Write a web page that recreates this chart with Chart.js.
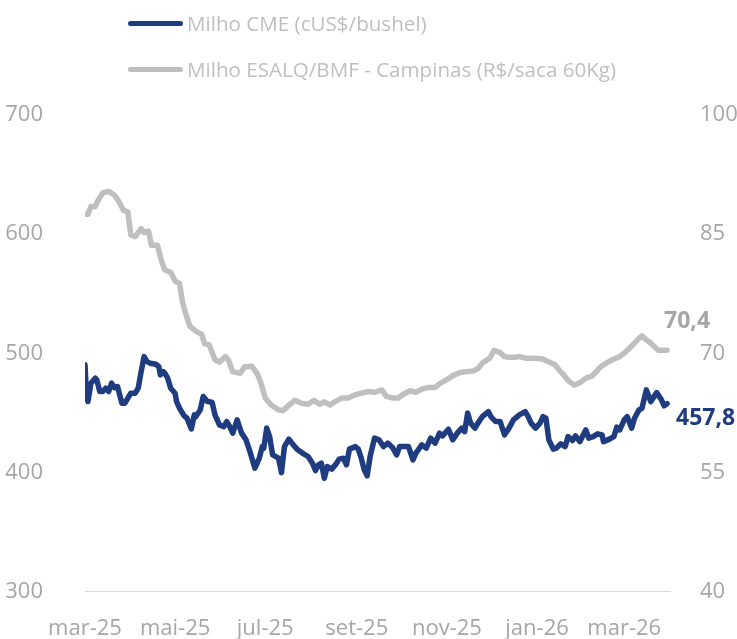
<!DOCTYPE html>
<html lang="pt-BR">

<head>
    <meta charset="UTF-8">
    <title>Milho CME x ESALQ</title>
    <script src="https://cdn.jsdelivr.net/npm/chart.js"></script>
    <style>
        body {
            margin: 0;
            background: #fff;
            font-family: "Open Sans", sans-serif;
        }

        .grafico {
            position: relative;
            width: 737px;
            height: 639px;
        }

        .legenda {
            position: absolute;
            left: 128px;
            top: 3px;
            color: #bfbfbf;
            font-size: 20.6px;
        }

        .legenda div {
            display: flex;
            align-items: center;
            height: 40px;
        }

        .legenda div + div {
            margin-top: 6px;
        }

        .legenda span.linha {
            display: inline-block;
            width: 55px;
            height: 5px;
            border-radius: 3px;
            margin-right: 4px;
        }
    </style>
</head>

<body>

    <div class="grafico">
        <div class="legenda">
            <div><span class="linha" style="background:#1f3c80"></span>Milho CME (cUS$/bushel)</div>
            <div><span class="linha" style="background:#bfbfbf"></span>Milho ESALQ/BMF - Campinas (R$/saca 60Kg)</div>
        </div>
        <canvas id="grafico-milho" width="737" height="639"></canvas>
    </div>

</body>

</html>

<script>

    // dias contados a partir de 01/03/2025
    const rotulosX = ['mar-25', 'mai-25', 'jul-25', 'set-25', 'nov-25', 'jan-26', 'mar-26'];
    const diasRotulos = [0, 61, 122, 184, 245, 306, 365];

    // Milho CME (cUS$/bushel) - eixo esquerdo
    const diasCme = [0, 1, 2, 4, 7, 8, 10, 12, 14, 16, 18, 20, 22, 25, 27, 29, 31, 34, 36, 38,
        40, 42, 44, 48, 50, 51, 53, 54, 56, 58, 61, 62, 64, 67, 69, 72, 74, 75, 78, 80,
        83, 86, 88, 91, 94, 96, 98, 100, 103, 106, 109, 112, 115, 118, 120, 121, 123, 125, 127, 131,
        133, 135, 138, 141, 144, 148, 151, 154, 156, 158, 160, 162, 164, 167, 170, 172, 175, 177, 179, 183,
        185, 187, 189, 191, 193, 196, 199, 202, 205, 208, 211, 213, 216, 219, 222, 224, 228, 231, 234, 237,
        240, 242, 246, 249, 252, 255, 257, 259, 261, 264, 266, 269, 273, 275, 278, 281, 284, 287, 290, 294,
        298, 300, 302, 305, 308, 310, 312, 314, 317, 319, 322, 325, 327, 330, 332, 335, 339, 341, 344, 347,
        350, 351, 355, 358, 360, 362, 365, 367, 370, 372, 375, 377, 380, 383, 387, 390, 392, 394];
    const cme = [490.4, 465.2, 459.6, 475.0, 479.2, 477.8, 468.0, 468.0, 470.8, 468.0, 475.0, 471.3, 472.2, 458.2, 458.2, 462.4, 466.6, 466.6, 470.8, 484.7,
        497.3, 493.1, 491.8, 490.9, 488.9, 482.0, 484.7, 483.4, 479.2, 470.8, 466.6, 459.6, 454.0, 447.8, 445.7, 436.7, 448.4, 447.0, 452.6, 463.8,
        459.6, 459.1, 448.4, 440.0, 438.6, 442.8, 438.6, 433.1, 444.2, 433.1, 427.5, 416.3, 403.7, 412.1, 421.8, 420.5, 437.3, 430.2, 414.9, 412.1,
        400.0, 421.8, 428.1, 423.3, 419.1, 415.7, 413.5, 407.9, 401.7, 406.5, 407.9, 395.3, 405.1, 402.9, 407.3, 411.3, 412.1, 406.5, 419.7, 421.8,
        419.7, 412.1, 402.3, 397.3, 413.5, 428.9, 427.5, 421.8, 424.7, 421.3, 414.9, 421.8, 421.8, 421.8, 410.7, 416.3, 423.3, 420.5, 428.9, 424.7,
        433.1, 430.8, 436.4, 427.5, 433.1, 437.3, 434.4, 449.9, 441.5, 437.3, 441.5, 447.0, 451.2, 446.5, 442.8, 442.8, 431.7, 437.3, 444.2, 448.4,
        451.2, 447.0, 441.5, 437.3, 441.5, 447.0, 445.7, 427.5, 419.7, 420.5, 424.1, 421.8, 430.2, 426.9, 430.8, 426.0, 435.8, 428.9, 430.2, 432.5,
        431.7, 426.0, 428.1, 430.2, 438.1, 435.8, 444.2, 447.0, 437.3, 445.7, 452.6, 454.0, 469.4, 459.6, 467.1, 461.6, 456.0, 457.8];

    // Milho ESALQ/BMF - Campinas (R$/saca 60Kg) - eixo direito
    const diasEsalq = [0, 2, 4, 7, 9, 12, 16, 20, 23, 26, 29, 31, 34, 38, 40, 43, 45, 49, 52, 54,
        58, 61, 64, 66, 68, 71, 75, 79, 81, 84, 88, 91, 95, 97, 100, 105, 108, 113, 117, 119,
        122, 126, 131, 134, 137, 142, 147, 151, 155, 159, 162, 166, 169, 174, 178, 183, 187, 192, 196, 201,
        204, 208, 212, 215, 220, 224, 228, 232, 237, 240, 245, 249, 254, 258, 263, 266, 269, 274, 277, 281,
        284, 287, 291, 294, 298, 304, 310, 313, 318, 321, 324, 327, 331, 335, 339, 343, 346, 349, 353, 357,
        362, 366, 371, 375, 377, 380, 383, 385, 388, 394];
    const esalq = [87.5, 87.5, 88.5, 88.5, 89.3, 90.2, 90.4, 89.9, 89.1, 88.0, 87.8, 84.9, 84.7, 85.7, 85.2, 85.4, 83.6, 83.6, 81.5, 80.5,
        80.2, 79.1, 78.8, 76.5, 75.1, 73.4, 72.8, 72.4, 71.2, 71.1, 69.2, 68.9, 69.6, 69.2, 67.7, 67.5, 68.3, 68.4, 67.3, 66.3,
        64.4, 63.5, 62.9, 62.8, 63.3, 64.1, 63.7, 63.6, 64.1, 63.6, 63.9, 63.5, 63.9, 64.4, 64.4, 64.8, 65.0, 65.2, 65.1, 65.4,
        64.6, 64.4, 64.4, 64.8, 65.3, 65.1, 65.5, 65.7, 65.7, 66.2, 66.7, 67.2, 67.6, 67.7, 67.8, 68.1, 68.8, 69.4, 70.4, 70.1,
        69.6, 69.5, 69.5, 69.6, 69.4, 69.4, 69.3, 69.0, 68.6, 67.9, 67.3, 66.6, 66.0, 66.3, 66.9, 67.1, 67.7, 68.3, 68.8, 69.2,
        69.6, 70.2, 71.1, 71.9, 72.2, 71.7, 71.3, 70.9, 70.4, 70.4];

    const corCme = '#1f3c80';
    const corEsalq = '#bfbfbf';
    const corTexto = '#a6a6a6';

    function montaPontos(dias, valores) {
        return dias.map((d, i) => ({ x: d, y: valores[i] }));
    }

    // rótulo com o último valor no fim de cada linha
    const rotuloFinal = {
        id: 'rotuloFinal',
        afterDatasetsDraw(chart) {
            const ctx = chart.ctx;
            ctx.save();
            ctx.font = 'bold 23px "Open Sans", sans-serif';
            ctx.textBaseline = 'middle';
            ctx.textAlign = 'left';

            const pCme = chart.getDatasetMeta(0).data.at(-1);
            ctx.fillStyle = corCme;
            ctx.fillText(cme[cme.length - 1].toFixed(1).replace('.', ','), pCme.x + 9, pCme.y + 15);

            const pEsalq = chart.getDatasetMeta(1).data.at(-1);
            ctx.fillStyle = corTexto;
            ctx.fillText(esalq[esalq.length - 1].toFixed(1).replace('.', ','), pEsalq.x - 3, pEsalq.y - 29);
            ctx.restore();
        }
    };

    let ctx = document.getElementById('grafico-milho').getContext('2d');

    let graficoMilho = new Chart(ctx, {
        type: 'line',
        data: {
            datasets: [{
                label: 'Milho CME (cUS$/bushel)',
                data: montaPontos(diasCme, cme),
                borderColor: corCme,
                borderWidth: 5.5,
                pointRadius: 0,
                tension: 0,
                borderJoinStyle: 'round',
                borderCapStyle: 'round',
                yAxisID: 'y'
            }, {
                label: 'Milho ESALQ/BMF - Campinas (R$/saca 60Kg)',
                data: montaPontos(diasEsalq, esalq),
                borderColor: corEsalq,
                borderWidth: 5.5,
                pointRadius: 0,
                tension: 0,
                borderJoinStyle: 'round',
                borderCapStyle: 'round',
                yAxisID: 'y1'
            }]
        },
        options: {
            responsive: false,
            animation: false,
            layout: {
                padding: { top: 115, left: 0, right: 0, bottom: 0 }
            },
            plugins: {
                legend: { display: false },
                tooltip: { enabled: false }
            },
            scales: {
                x: {
                    type: 'linear',
                    min: 0,
                    max: 396,
                    grid: { display: false },
                    border: { display: true, color: '#d9d9d9', width: 1 },
                    afterBuildTicks: (scale) => {
                        scale.ticks = diasRotulos.map(d => ({ value: d }));
                    },
                    afterFit: (scale) => { scale.height = 47; },
                    ticks: {
                        color: corTexto,
                        font: { family: '"Open Sans", sans-serif', size: 22 },
                        padding: 16,
                        maxRotation: 0,
                        autoSkip: false,
                        callback: (valor) => rotulosX[diasRotulos.indexOf(valor)]
                    }
                },
                y: {
                    position: 'left',
                    min: 300,
                    max: 700,
                    grid: { display: false },
                    border: { display: false },
                    afterFit: (scale) => { scale.width = 85; },
                    ticks: {
                        stepSize: 100,
                        color: corTexto,
                        padding: 34,
                        font: { family: '"Open Sans", sans-serif', size: 22 }
                    }
                },
                y1: {
                    position: 'right',
                    min: 40,
                    max: 100,
                    grid: { display: false },
                    border: { display: false },
                    afterFit: (scale) => { scale.width = 67; },
                    ticks: {
                        stepSize: 15,
                        color: corTexto,
                        padding: 22,
                        font: { family: '"Open Sans", sans-serif', size: 22 }
                    }
                }
            }
        },
        plugins: [rotuloFinal]
    });

</script>
